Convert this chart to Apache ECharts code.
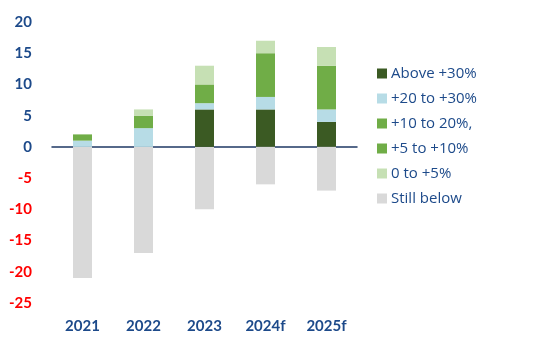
<!DOCTYPE html>
<html>
<head>
<meta charset="utf-8">
<script src="https://cdn.jsdelivr.net/npm/echarts@6/dist/echarts.min.js"></script>
<style>
    html, body { margin: 0; padding: 0; background: #fff; }
    #chart { width: 560px; height: 354px; }
</style>
</head>
<body>
<div id="chart"></div>
<script>
    // data
    const years = ['2021', '2022', '2023', '2024f', '2025f'];
    const above30 = [0, 0, 6, 6, 4];
    const from20to30 = [1, 3, 1, 2, 2];
    const from10to20 = [1, 2, 3, 7, 7];
    const from5to10 = [0, 0, 0, 0, 0];
    const from0to5 = [0, 1, 3, 2, 3];
    const stillBelow = [-21, -17, -10, -6, -7];

    const blue = '#1d4a8a';
    let myChart = echarts.init(document.getElementById('chart'));

    function bar(name, data, color) {
        return {
            name: name,
            type: 'bar',
            stack: 'all',
            xAxisIndex: 0,
            data: data,
            barWidth: 19,
            itemStyle: { color: color },
            emphasis: { disabled: true }
        };
    }

    let option = {
        animation: false,
        textStyle: { fontFamily: 'Lato' },
        grid: { left: 52, right: 203, top: 22, bottom: 51 },
        legend: {
            orient: 'vertical',
            left: 372,
            top: 61,
            itemGap: 10,
            itemWidth: 10,
            itemHeight: 10,
            icon: 'rect',
            textStyle: { color: blue, fontSize: 15, fontFamily: 'Open Sans', padding: [0, 0, 0, -1] },
            data: ['Above +30%', '+20 to +30%', '+10 to 20%,', '+5 to +10%', '0 to +5%', 'Still below']
        },
        xAxis: [{
            type: 'category',
            data: years,
            axisTick: { show: false },
            axisLine: { onZero: true, lineStyle: { color: '#1f3864', width: 1.5 } },
            axisLabel: { show: false }
        }, {
            // category labels sit below the plot, not at the zero line
            type: 'category',
            data: years,
            position: 'bottom',
            axisTick: { show: false },
            axisLine: { show: false, onZero: false },
            axisLabel: { color: blue, fontSize: 15, fontWeight: 'bold', margin: 16 }
        }],
        yAxis: {
            type: 'value',
            min: -25,
            max: 20,
            interval: 5,
            splitLine: { show: false },
            axisLine: { show: false },
            axisTick: { show: false },
            axisLabel: {
                fontSize: 15,
                fontWeight: 'bold',
                margin: 20,
                color: function (v) { return v < 0 ? '#ff0000' : blue; }
            }
        },
        series: [
            bar('Above +30%', above30, '#3b5a23'),
            bar('+20 to +30%', from20to30, '#b7dce6'),
            bar('+10 to 20%,', from10to20, '#70ad47'),
            bar('+5 to +10%', from5to10, '#70ad47'),
            bar('0 to +5%', from0to5, '#c6e0b4'),
            bar('Still below', stillBelow, '#d9d9d9')
        ]
    };
    myChart.setOption(option);
</script>
</body>
</html>
